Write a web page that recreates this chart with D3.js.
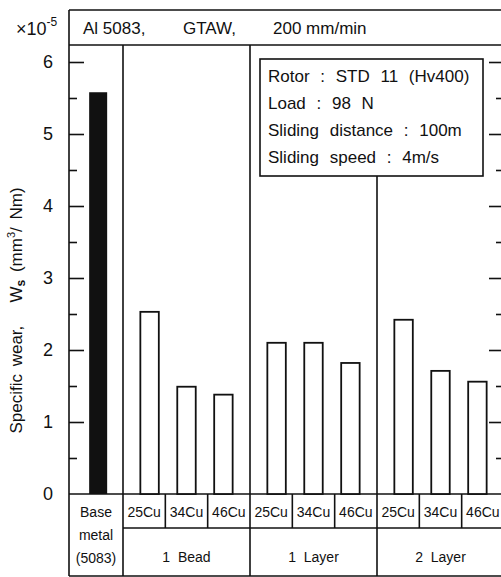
<!DOCTYPE html>
<html>
<head>
<meta charset="utf-8">
<script src="https://cdn.jsdelivr.net/npm/d3@7"></script>
<style>
  html, body { margin: 0; padding: 0; background: #fff; }
  svg { display: block; font-family: "Liberation Sans", Arial, sans-serif; }
  text { fill: #111; }
</style>
</head>
<body>
<svg id="chart" width="501" height="577"></svg>
<script>
/* Specific wear chart, Al 5083 GTAW */

const groups = ['1 Bead', '1 Layer', '2 Layer'];
const alloys = ['25Cu', '34Cu', '46Cu'];
const baseMetal = 5.58;
const bead1 = [2.53, 1.49, 1.38];
const layer1 = [2.10, 2.10, 1.82];
const layer2 = [2.42, 1.71, 1.56];
const majorTicks = [0, 1, 2, 3, 4, 5, 6];
const minorTicks = [0.5, 1.5, 2.5, 3.5, 4.5, 5.5];
const titleParts = ['Al 5083,', 'GTAW,', '200 mm/min'];
const legendLines = ['Rotor : STD 11 (Hv400)', 'Load : 98 N', 'Sliding distance : 100m', 'Sliding speed : 4m/s'];
const baseLabel = ['Base', 'metal', '(5083)'];

const series = [bead1, layer1, layer2];

// layout
const frameLeft = 69, frameTop = 10, plotTop = 45, zeroY = 494;
const rowY = 528, frameBottom = 576;
const groupStart = 123, groupW = 127;
const frameRight = groupStart + groupW * groups.length;

const svg = d3.select('#chart');
const ink = '#111';

const y = d3.scaleLinear().domain([0, 6]).range([zeroY, 62]);

const gx = d3.scaleBand().domain(groups).range([groupStart, frameRight]);
const bx = d3.scaleBand().domain(alloys).range([0, groupW]).paddingInner(0.5).paddingOuter(0.47);
const cx = d3.scaleBand().domain(alloys).range([0, groupW]);
const baseX = d3.scaleBand().domain(['base']).range([frameLeft, groupStart])
  .paddingInner(0.5).paddingOuter(0.5).align(0.56);

// frame
const line = (x1, y1, x2, y2, w) => svg.append('line')
  .attr('x1', x1).attr('y1', y1).attr('x2', x2).attr('y2', y2)
  .attr('stroke', ink).attr('stroke-width', w || 1.6);

line(frameLeft, frameTop, frameRight, frameTop);
line(frameLeft, frameTop, frameLeft, frameBottom);
line(frameLeft, plotTop, frameRight, plotTop);
line(frameLeft, zeroY, frameRight, zeroY);
line(groupStart, rowY, frameRight, rowY);
line(frameLeft, frameBottom, frameRight, frameBottom);
line(groupStart, plotTop, groupStart, frameBottom);
line(gx('1 Layer'), plotTop, gx('1 Layer'), frameBottom);
line(gx('2 Layer'), 176, gx('2 Layer'), frameBottom);
line(frameRight, frameTop, frameRight, frameBottom);

// column separators in the table
groups.forEach(g => {
  alloys.slice(1).forEach(a => line(gx(g) + cx(a), zeroY, gx(g) + cx(a), rowY));
});

// title row
const titleX = [83, 183, 273];
svg.append('g').selectAll('text').data(titleParts).join('text')
  .attr('x', (d, i) => titleX[i]).attr('y', 34)
  .attr('font-size', 17).text(d => d);

// x10^-5
const mult = svg.append('text').attr('x', 16).attr('y', 35).attr('font-size', 18);
mult.append('tspan').text('\u00d710');
mult.append('tspan').attr('dy', -9).attr('font-size', 12).text('-5');

// axes
const axL = svg.append('g').attr('transform', `translate(${frameLeft},0)`)
  .call(d3.axisLeft(y).tickValues(majorTicks).tickSize(-15).tickPadding(16).tickFormat(d3.format('d')));
const axLm = svg.append('g').attr('transform', `translate(${frameLeft},0)`)
  .call(d3.axisLeft(y).tickValues(minorTicks).tickSize(-8).tickFormat(''));
const axR = svg.append('g').attr('transform', `translate(${frameRight},0)`)
  .call(d3.axisRight(y).tickValues(majorTicks).tickSize(-15).tickFormat(''));
const axRm = svg.append('g').attr('transform', `translate(${frameRight},0)`)
  .call(d3.axisRight(y).tickValues(minorTicks).tickSize(-8).tickFormat(''));

[axL, axLm, axR, axRm].forEach(a => {
  a.select('.domain').remove();
  a.selectAll('line').attr('stroke', ink).attr('stroke-width', 1.6);
  a.selectAll('text').attr('font-size', 18).attr('font-family', '"Liberation Sans", Arial, sans-serif').attr('fill', ink);
});
axL.selectAll('.tick').filter(d => d === 0).select('line').remove();
axR.selectAll('.tick').filter(d => d === 0).select('line').remove();

// y title
const yt = svg.append('text')
  .attr('transform', `translate(22,${(178 + 443) / 2}) rotate(-90)`)
  .attr('text-anchor', 'middle').attr('font-size', 17)
  .style('white-space', 'pre').attr('word-spacing', 3);
yt.append('tspan').text('Specific wear,   W');
yt.append('tspan').attr('dy', 3).attr('font-size', 12).attr('font-weight', 'bold').text('s');
yt.append('tspan').attr('dy', -3).text(' (mm');
yt.append('tspan').attr('dy', -7).attr('font-size', 11).text('3');
yt.append('tspan').attr('dy', 7).text('/ Nm)');

// bars
svg.append('rect')
  .attr('x', baseX('base')).attr('width', baseX.bandwidth())
  .attr('y', y(baseMetal)).attr('height', zeroY - y(baseMetal))
  .attr('fill', ink);

const bars = groups.flatMap((g, gi) => alloys.map((a, ai) => ({ g, a, v: series[gi][ai] })));
svg.append('g').selectAll('rect').data(bars).join('rect')
  .attr('x', d => gx(d.g) + bx(d.a)).attr('width', bx.bandwidth())
  .attr('y', d => y(d.v)).attr('height', d => zeroY - y(d.v))
  .attr('fill', '#fff').attr('stroke', ink).attr('stroke-width', 1.8);

// table labels
svg.append('g').selectAll('text').data(bars).join('text')
  .attr('x', d => gx(d.g) + cx(d.a) + cx.bandwidth() / 2).attr('y', 517)
  .attr('text-anchor', 'middle').attr('font-size', 14).text(d => d.a);

svg.append('g').selectAll('text').data(groups).join('text')
  .attr('x', d => gx(d) + groupW / 2).attr('y', 562)
  .attr('text-anchor', 'middle').attr('font-size', 14).style('white-space', 'pre')
  .text(d => d.replace(' ', '  '));

svg.append('g').selectAll('text').data(baseLabel).join('text')
  .attr('x', (frameLeft + groupStart) / 2).attr('y', (d, i) => 517 + i * 23)
  .attr('text-anchor', 'middle').attr('font-size', 14).text(d => d);

// conditions box
svg.append('rect').attr('x', 260).attr('y', 59).attr('width', 223).attr('height', 117)
  .attr('fill', '#fff').attr('stroke', ink).attr('stroke-width', 1.6);
svg.append('g').selectAll('text').data(legendLines).join('text')
  .attr('x', 268).attr('y', (d, i) => 82 + i * 27)
  .attr('font-size', 17).attr('word-spacing', 6).text(d => d);
</script>
</body>
</html>
